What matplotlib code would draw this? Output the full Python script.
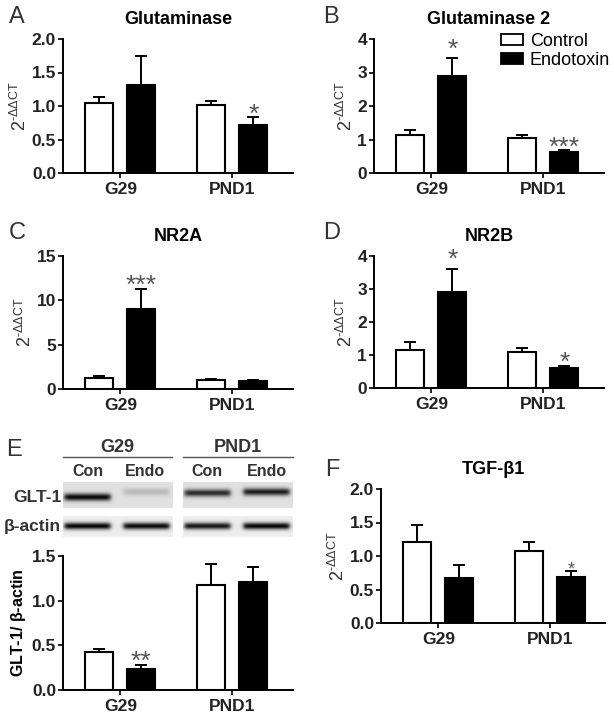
import numpy as np
import matplotlib
matplotlib.use('Agg')
import matplotlib.pyplot as plt
from matplotlib.patches import Patch

plt.rcParams['font.family'] = ['Liberation Sans', 'DejaVu Sans']
plt.rcParams['mathtext.fontset'] = 'custom'
plt.rcParams['mathtext.rm'] = 'Liberation Sans'
plt.rcParams['mathtext.it'] = 'Liberation Sans'
plt.rcParams['mathtext.bf'] = 'Liberation Sans:bold'

# data (mean, upper SEM) for control and endotoxin at G29 / PND1
groups = ['G29', 'PND1']

gls_ctrl = [1.04, 1.02]
gls_ctrl_sem = [0.09, 0.06]
gls_endo = [1.31, 0.71]
gls_endo_sem = [0.43, 0.12]

gls2_ctrl = [1.12, 1.04]
gls2_ctrl_sem = [0.15, 0.08]
gls2_endo = [2.90, 0.62]
gls2_endo_sem = [0.53, 0.06]

nr2a_ctrl = [1.20, 1.05]
nr2a_ctrl_sem = [0.22, 0.08]
nr2a_endo = [9.00, 0.95]
nr2a_endo_sem = [2.30, 0.12]

nr2b_ctrl = [1.15, 1.08]
nr2b_ctrl_sem = [0.23, 0.14]
nr2b_endo = [2.92, 0.60]
nr2b_endo_sem = [0.70, 0.08]

glt_ctrl = [0.42, 1.17]
glt_ctrl_sem = [0.04, 0.24]
glt_endo = [0.24, 1.21]
glt_endo_sem = [0.04, 0.17]

tgf_ctrl = [1.21, 1.07]
tgf_ctrl_sem = [0.25, 0.14]
tgf_endo = [0.67, 0.68]
tgf_endo_sem = [0.19, 0.09]

# western blot band strength per lane: G29 Con, G29 Endo, PND1 Con, PND1 Endo
glt_band = [0.85, 0.15, 0.72, 0.78]
actin_band = [0.92, 0.90, 0.85, 0.92]
blot_lanes = ['Con', 'Endo', 'Con', 'Endo']

W, H = 614, 715
fig = plt.figure(figsize=(W / 100, H / 100), dpi=100)


def px_axes(x0, y0, x1, y1):
    return fig.add_axes([x0 / W, 1 - y1 / H, (x1 - x0) / W, (y1 - y0) / H])


dd_label = r'$\mathregular{2^{\text{-}\Delta\Delta CT}}$'


def bar_panel(box, ctrl, ctrl_sem, endo, endo_sem, ymax, yticks, fmt,
              title, ylabel=dd_label, stars=(), star_size=19, ylab_bold=False):
    ax = px_axes(*box)
    width_px = box[2] - box[0]
    xmax = width_px / 28.0
    centers = np.array([2.05, 6.05])
    off = 0.75
    ax.bar(centers - off, ctrl, width=1.0, color='white', edgecolor='black', linewidth=1.5, zorder=2)
    ax.bar(centers + off, endo, width=1.0, color='black', edgecolor='black', linewidth=1.5, zorder=2)
    ax.errorbar(centers - off, ctrl, yerr=[np.zeros(2), ctrl_sem], fmt='none', ecolor='black',
                elinewidth=1.4, capsize=4.5, capthick=1.4, zorder=3)
    ax.errorbar(centers + off, endo, yerr=[np.zeros(2), endo_sem], fmt='none', ecolor='black',
                elinewidth=1.4, capsize=4.5, capthick=1.4, zorder=3)
    for idx, txt, dy in stars:
        top = endo[idx] + endo_sem[idx]
        ax.annotate(txt, (centers[idx] + off, top), xytext=(0, dy), textcoords='offset points',
                    ha='center', va='baseline', fontsize=star_size, color='#555555')
    ax.set_xlim(0, xmax)
    ax.set_ylim(0, ymax)
    ax.set_yticks(yticks)
    ax.set_yticklabels([fmt.format(t) for t in yticks], fontweight='bold', fontsize=12.5)
    ax.set_xticks(centers)
    ax.set_xticklabels(groups, fontweight='bold', fontsize=12.5)
    for s in ['top', 'right']:
        ax.spines[s].set_visible(False)
    for s in ['left', 'bottom']:
        ax.spines[s].set_linewidth(1.4)
    ax.tick_params(axis='both', direction='out', length=3.5, width=1.4, pad=1.5, colors='#222222')
    ax.tick_params(axis='x', pad=3)
    ax.set_title(title, fontsize=13, fontweight='bold', pad=11)
    if ylab_bold:
        ax.set_ylabel(ylabel, fontsize=11.5, fontweight='bold', labelpad=3)
    else:
        ax.set_ylabel(ylabel, fontsize=13, color='#333333', labelpad=1)
    return ax


bar_panel((63, 39, 293, 173), gls_ctrl, gls_ctrl_sem, gls_endo, gls_endo_sem,
          2.0, [0.0, 0.5, 1.0, 1.5, 2.0], '{:.1f}', 'Glutaminase', stars=[(1, '*', -3)])
axB = bar_panel((374, 39, 604, 173), gls2_ctrl, gls2_ctrl_sem, gls2_endo, gls2_endo_sem,
                4, [0, 1, 2, 3, 4], '{:d}', 'Glutaminase 2', stars=[(0, '*', 1), (1, '***', -3)])
bar_panel((63, 256, 293, 389), nr2a_ctrl, nr2a_ctrl_sem, nr2a_endo, nr2a_endo_sem,
          15, [0, 5, 10, 15], '{:d}', 'NR2A', stars=[(0, '***', -3)])
bar_panel((374, 256, 604, 388), nr2b_ctrl, nr2b_ctrl_sem, nr2b_endo, nr2b_endo_sem,
          4, [0, 1, 2, 3, 4], '{:d}', 'NR2B', stars=[(0, '*', 1), (1, '*', -3)])
axE = bar_panel((63, 556, 293, 690), glt_ctrl, glt_ctrl_sem, glt_endo, glt_endo_sem,
                1.5, [0.0, 0.5, 1.0, 1.5], '{:.1f}', '',
                ylabel=r'GLT-1/ $\mathregular{\beta}$-actin', stars=[(0, '**', -3)], ylab_bold=True)
bar_panel((381, 489, 605, 623), tgf_ctrl, tgf_ctrl_sem, tgf_endo, tgf_endo_sem,
          2.0, [0.0, 0.5, 1.0, 1.5, 2.0], '{:.1f}', 'TGF-β1', stars=[(1, '*', -2)], star_size=13)

axB.legend(handles=[Patch(facecolor='white', edgecolor='black', linewidth=1.3),
                    Patch(facecolor='black', edgecolor='black', linewidth=1.3)],
           labels=['Control', 'Endotoxin'], loc='upper left',
           bbox_to_anchor=(501 / W, 1 - 33 / H), bbox_transform=fig.transFigure,
           frameon=False, fontsize=13, handlelength=1.2, handleheight=0.55,
           handletextpad=0.4, labelspacing=0.1, borderpad=0, borderaxespad=0)


# western blot strips
def blot_image(strengths, rows, band_y, sigma, bg):
    cols = 110
    yy, xx = np.mgrid[0:rows, 0:cols]
    img = np.full((rows, cols), bg)
    lane_x = [24, 83]
    for k, s in enumerate(strengths):
        cx = lane_x[k]
        hx = 0.5 * (np.tanh((xx - (cx - 23)) / 2.5) - np.tanh((xx - (cx + 23)) / 2.5))
        vy = np.exp(-((yy - band_y[k]) / sigma) ** 2)
        img = img - s * hx * vy
    return np.clip(img, 0, 1)


for p, (x0, x1) in enumerate([(63, 173), (183, 293)]):
    g = glt_band[2 * p:2 * p + 2]
    a = actin_band[2 * p:2 * p + 2]
    ax = px_axes(x0, 482, x1, 508)
    gy = [15, 10] if p == 0 else [11, 10]
    ax.imshow(blot_image(g, 26, gy, 3.5, 0.88), cmap='gray', vmin=0, vmax=1,
              aspect='auto', interpolation='bilinear')
    ax.axis('off')
    ax = px_axes(x0, 516, x1, 537)
    ax.imshow(blot_image(a, 21, [10, 10], 3.2, 0.93), cmap='gray', vmin=0, vmax=1,
              aspect='auto', interpolation='bilinear')
    ax.axis('off')

# overlay in pixel coordinates for letters and blot labels
ov = fig.add_axes([0, 0, 1, 1], zorder=-1)
ov.set_xlim(0, W)
ov.set_ylim(H, 0)
ov.axis('off')

for letter, lx, ly in [('A', 17, 17), ('B', 331, 17), ('C', 17, 233),
                       ('D', 332, 233), ('E', 14, 450), ('F', 332, 470)]:
    ov.text(lx, ly, letter, fontsize=17, color='#333333', ha='center', va='center')

for name, x0, x1 in [('G29', 63, 172), ('PND1', 183, 293)]:
    ov.plot([x0, x1], [457, 457], color='#555555', lw=1)
    ov.text((x0 + x1) / 2, 456, name, fontsize=13, fontweight='bold', color='#333333',
            ha='center', va='bottom')
for lab, lx in zip(blot_lanes, [88, 145, 207, 267]):
    ov.text(lx, 471, lab, fontsize=11.5, fontweight='bold', color='#333333', ha='center', va='center')
ov.text(61, 498, 'GLT-1', fontsize=12.5, fontweight='bold', color='#333333', ha='right', va='center')
ov.text(61, 527, 'β-actin', fontsize=12.5, fontweight='bold', color='#333333', ha='right', va='center')

fig.savefig('out.png', dpi=100)
